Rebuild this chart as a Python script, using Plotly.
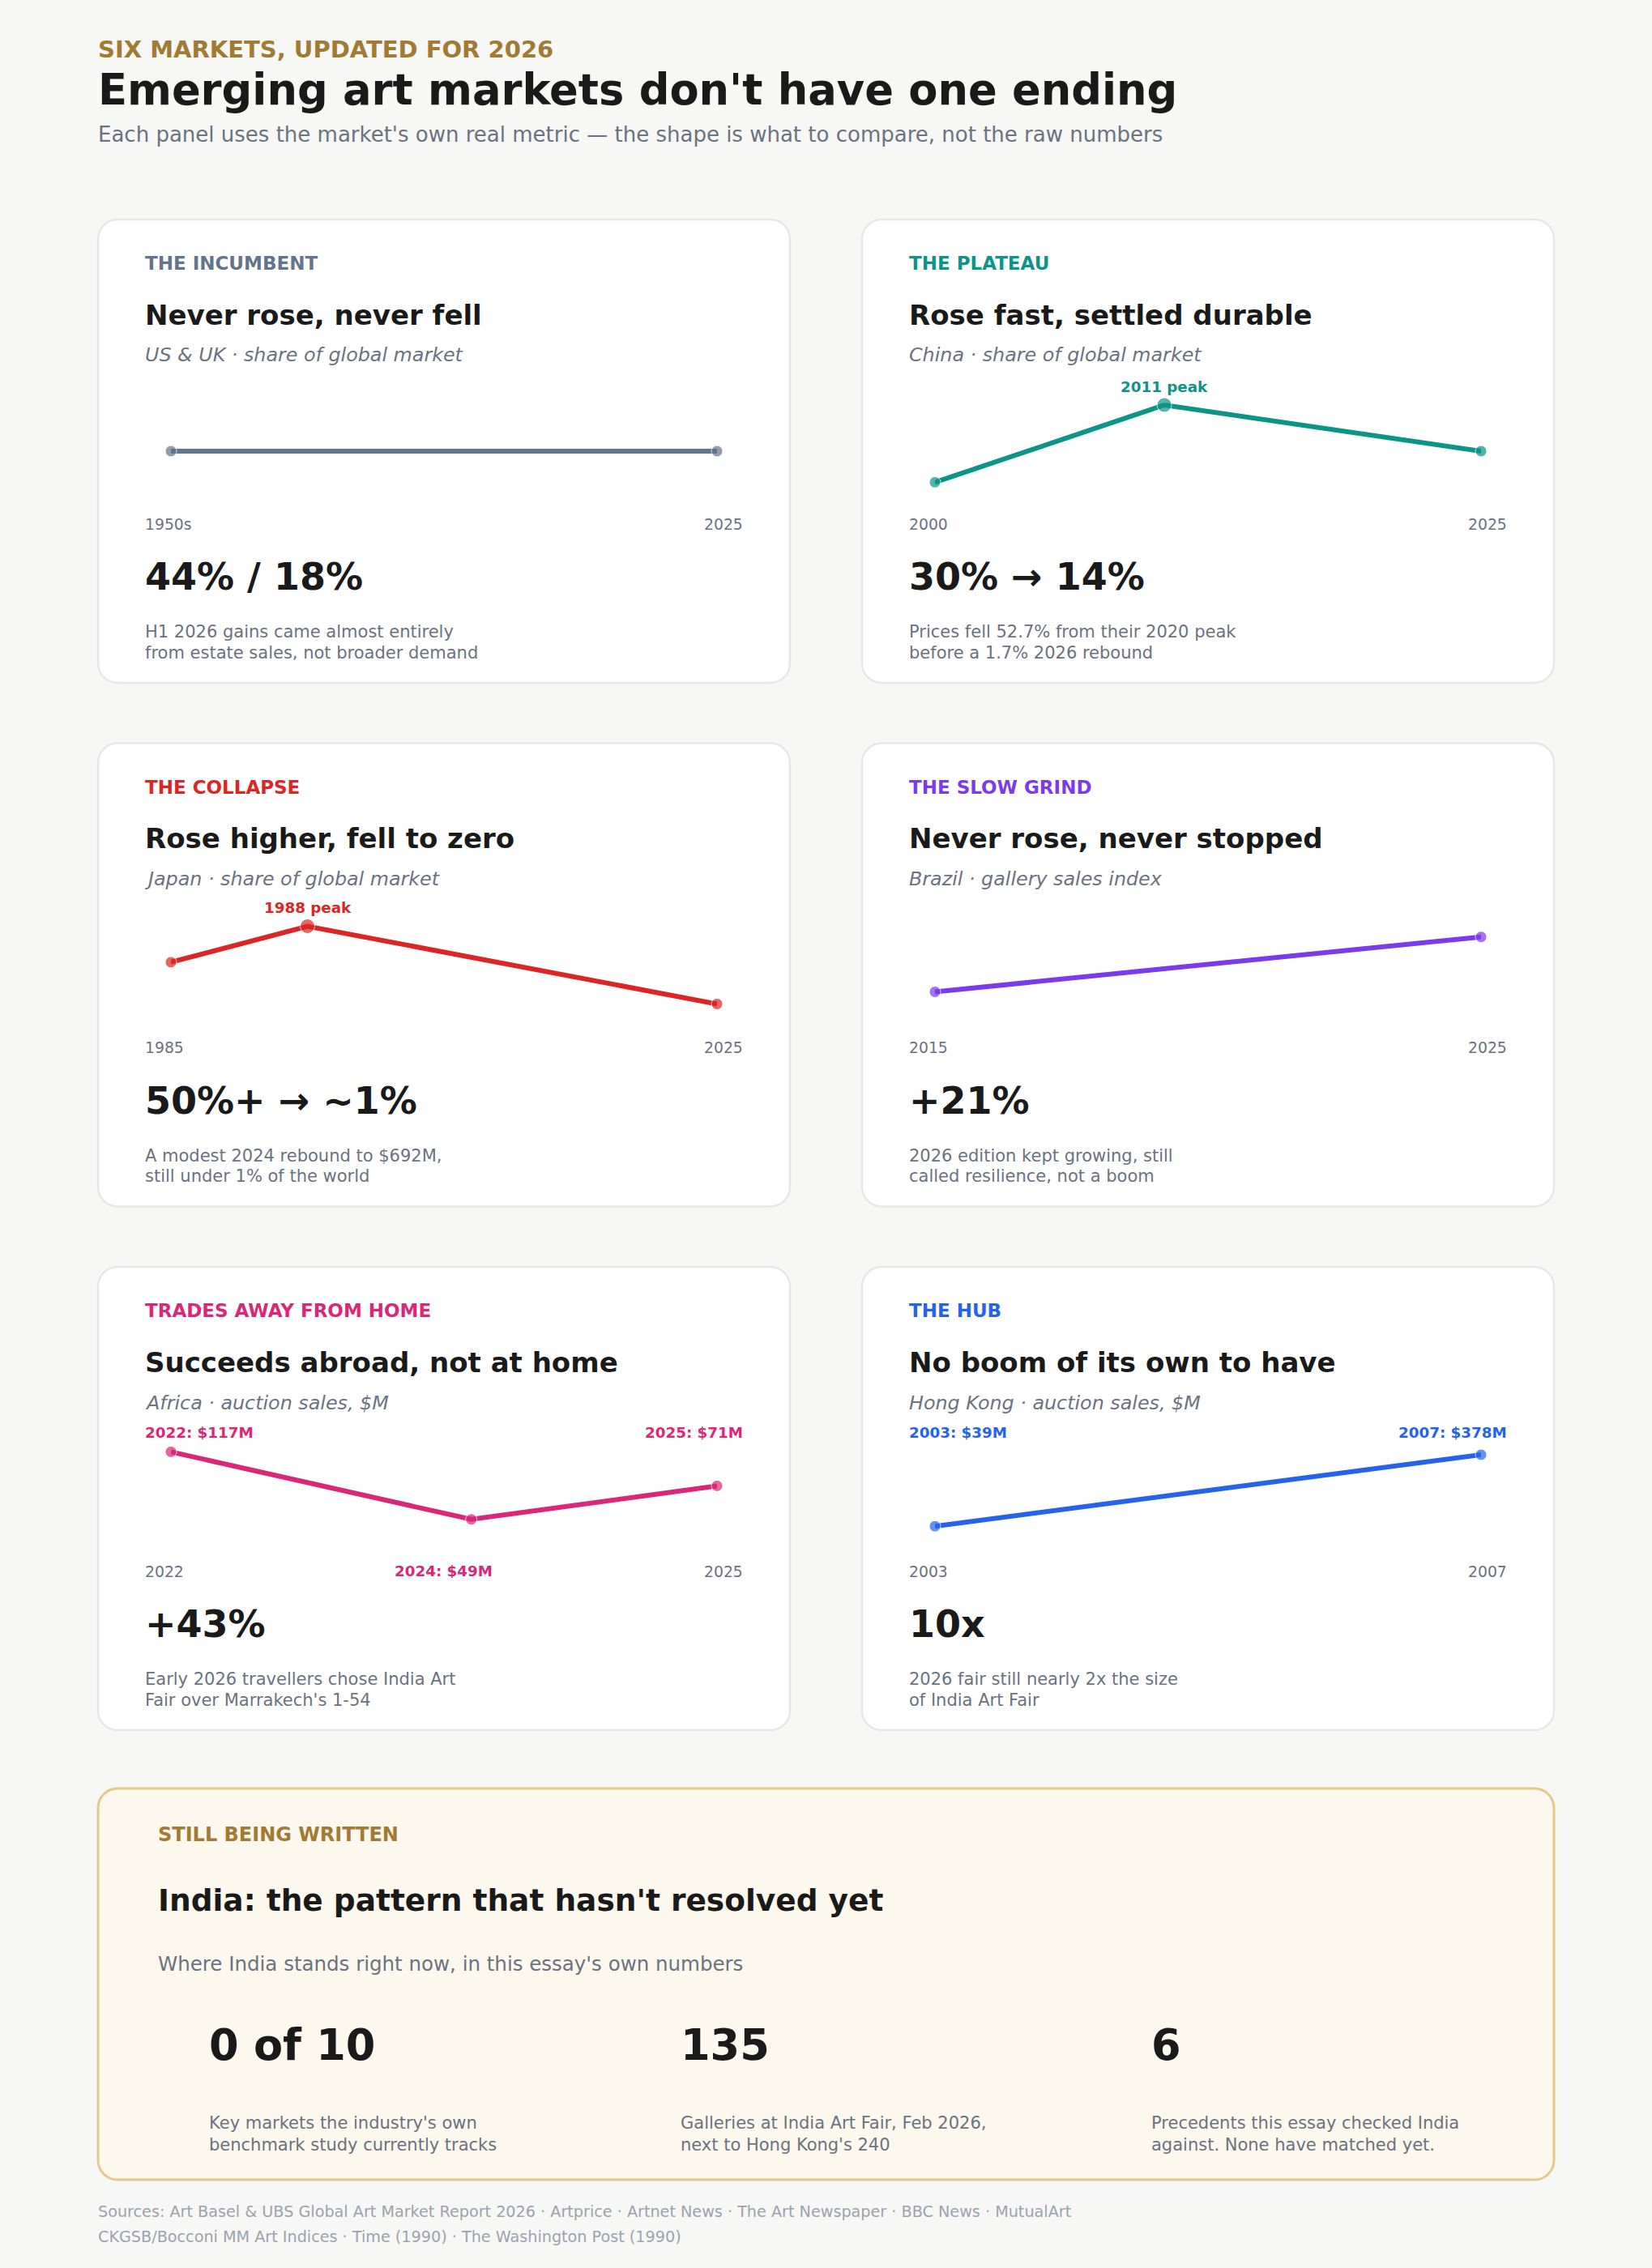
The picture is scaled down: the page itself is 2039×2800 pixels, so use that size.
import plotly.graph_objects as go

# ---------------- data ----------------
kickers = ["THE INCUMBENT", "THE PLATEAU", "THE COLLAPSE",
           "THE SLOW GRIND", "TRADES AWAY FROM HOME", "THE HUB"]
titles = ["Never rose, never fell", "Rose fast, settled durable",
          "Rose higher, fell to zero", "Never rose, never stopped",
          "Succeeds abroad, not at home", "No boom of its own to have"]
metrics = ["US & UK · share of global market", "China · share of global market",
           "Japan · share of global market", "Brazil · gallery sales index",
           "Africa · auction sales, $M", "Hong Kong · auction sales, $M"]
start_labels = ["1950s", "2000", "1985", "2015", "2022", "2003"]
end_labels = ["2025", "2025", "2025", "2025", "2025", "2007"]
headlines = ["44% / 18%", "30% → 14%", "50%+ → ~1%", "+21%", "+43%", "10x"]
notes_line1 = ["H1 2026 gains came almost entirely",
               "Prices fell 52.7% from their 2020 peak",
               "A modest 2024 rebound to $692M,",
               "2026 edition kept growing, still",
               "Early 2026 travellers chose India Art",
               "2026 fair still nearly 2x the size"]
notes_line2 = ["from estate sales, not broader demand",
               "before a 1.7% 2026 rebound",
               "still under 1% of the world",
               "called resilience, not a boom",
               "Fair over Marrakech's 1-54",
               "of India Art Fair"]
colors = ["#64748b", "#0d9488", "#dc2626", "#7c3aed", "#db2777", "#2563eb"]

# shape of each panel's line
# t = relative position along the panel's timeline (0-100), level = relative height (0-100)
us_uk_t = [0, 100]
us_uk_level = [45, 45]
china_t = [0, 42, 100]
china_level = [13, 92.5, 45]
japan_t = [0, 25, 100]
japan_level = [58, 95, 15]
brazil_t = [0, 100]
brazil_level = [27.5, 84]
africa_t = [0, 55, 100]
africa_level = [93, 23.5, 58]
hk_t = [0, 100]
hk_level = [16.5, 90]

series_t = [us_uk_t, china_t, japan_t, brazil_t, africa_t, hk_t]
series_level = [us_uk_level, china_level, japan_level, brazil_level, africa_level, hk_level]
peak_index = [None, 1, 1, None, None, None]
peak_labels = [None, "2011 peak", "1988 peak", None, None, None]

africa_labels = ["2022: $117M", "2024: $49M", "2025: $71M"]
hk_labels = ["2003: $39M", "2007: $378M"]

india_stats = ["0 of 10", "135", "6"]
india_desc1 = ["Key markets the industry's own", "Galleries at India Art Fair, Feb 2026,",
               "Precedents this essay checked India"]
india_desc2 = ["benchmark study currently tracks", "next to Hong Kong's 240",
               "against. None have matched yet."]

sources = ["Sources: Art Basel & UBS Global Art Market Report 2026 · Artprice · Artnet News · The Art Newspaper · BBC News · MutualArt",
           "CKGSB/Bocconi MM Art Indices · Time (1990) · The Washington Post (1990)"]

# ---------------- layout helpers ----------------
W, H = 2039, 2800
FONT = "DejaVu Sans"
DARK = "#1a1a1a"
GRAY = "#6b7280"
GOLD = "#a17a33"
BG = "#f7f7f5"
DY = 2  # small vertical nudge for text


def X(px):
    return px / W


def Y(py):
    return 1 - py / H


def rrect(x0, y0, x1, y1, r):
    k = 0.5523 * r
    p = []
    p.append(f"M {X(x0 + r)},{Y(y0)}")
    p.append(f"L {X(x1 - r)},{Y(y0)}")
    p.append(f"C {X(x1 - r + k)},{Y(y0)} {X(x1)},{Y(y0 + r - k)} {X(x1)},{Y(y0 + r)}")
    p.append(f"L {X(x1)},{Y(y1 - r)}")
    p.append(f"C {X(x1)},{Y(y1 - r + k)} {X(x1 - r + k)},{Y(y1)} {X(x1 - r)},{Y(y1)}")
    p.append(f"L {X(x0 + r)},{Y(y1)}")
    p.append(f"C {X(x0 + r - k)},{Y(y1)} {X(x0)},{Y(y1 - r + k)} {X(x0)},{Y(y1 - r)}")
    p.append(f"L {X(x0)},{Y(y0 + r)}")
    p.append(f"C {X(x0)},{Y(y0 + r - k)} {X(x0 + r - k)},{Y(y0)} {X(x0 + r)},{Y(y0)}")
    p.append("Z")
    return " ".join(p)


annotations = []
shapes = []


def txt(text, px, py, size, color, bold=False, italic=False, anchor="left"):
    annotations.append(dict(
        text=text, x=X(px), y=Y(py + DY + (1.5 if size > 40 else 0)),
        xref="paper", yref="paper",
        xanchor=anchor, yanchor="middle", showarrow=False,
        borderpad=0, borderwidth=0,
        font=dict(family=FONT, size=size, color=color,
                  weight="bold" if bold else "normal",
                  style="italic" if italic else "normal"),
    ))


fig = go.Figure()

# header
txt("SIX MARKETS, UPDATED FOR 2026", 121, 59.5, 29, GOLD, bold=True)
txt("Emerging art markets don't have one ending", 121, 107, 52.7, DARK, bold=True)
txt("Each panel uses the market's own real metric — the shape is what to compare, not the raw numbers",
    121, 164, 26, GRAY)

card_x = [121, 1064]
card_y = [271, 917.5, 1564]
CW, CH = 854, 572

for i in range(6):
    col, row = i % 2, i // 2
    cx, cy = card_x[col], card_y[row]
    shapes.append(dict(type="path", path=rrect(cx, cy, cx + CW, cy + CH, 24),
                       xref="paper", yref="paper", fillcolor="#ffffff",
                       line=dict(color="#e5e7eb", width=2.5), layer="below"))
    tl = cx + 57.5
    tr = cx + CW - 58
    txt(kickers[i], tl, cy + 52, 23, colors[i], bold=True)
    txt(titles[i], tl, cy + 115.5, 34, DARK, bold=True)
    txt(metrics[i], tl, cy + 165.5, 23.8, GRAY, italic=True)
    txt(start_labels[i], tl, cy + 374, 18.8, GRAY)
    txt(end_labels[i], tr, cy + 374, 18.8, GRAY, anchor="right")
    txt(headlines[i], tl, cy + 437.5, 46, DARK, bold=True)
    txt(notes_line1[i], tl, cy + 507, 21, GRAY)
    txt(notes_line2[i], tl, cy + 532.5, 21, GRAY)

    # mini chart axes
    n = i + 1
    xa = "xaxis" if n == 1 else f"xaxis{n}"
    ya = "yaxis" if n == 1 else f"yaxis{n}"
    xr = "x" if n == 1 else f"x{n}"
    yr = "y" if n == 1 else f"y{n}"
    fig.update_layout({
        xa: dict(domain=[X(cx + 90), X(cx + CW - 90)], range=[0, 100], visible=False,
                 fixedrange=True, anchor=yr),
        ya: dict(domain=[Y(cy + 340), Y(cy + 220)], range=[0, 100], visible=False,
                 fixedrange=True, anchor=xr),
    })
    sizes = [18 if j == peak_index[i] else 14 for j in range(len(series_t[i]))]
    fig.add_trace(go.Scatter(
        x=series_t[i], y=series_level[i], xaxis=xr, yaxis=yr,
        mode="lines+markers", cliponaxis=False, hoverinfo="skip",
        line=dict(color=colors[i], width=6),
        marker=dict(color=colors[i], size=sizes),
        showlegend=False,
    ))
    if peak_index[i] is not None:
        j = peak_index[i]
        annotations.append(dict(
            text=peak_labels[i], x=series_t[i][j], y=series_level[i][j], xref=xr, yref=yr,
            xanchor="center", yanchor="middle", yshift=23, showarrow=False,
            font=dict(family=FONT, size=18.3, color=colors[i], weight="bold")))
    if i == 4:
        txt(africa_labels[0], tl, cy + 202.7, 18.3, colors[i], bold=True)
        txt(africa_labels[2], tr, cy + 202.7, 18.3, colors[i], bold=True, anchor="right")
        txt(africa_labels[1], cx + 426.7, cy + 373, 18.3, colors[i], bold=True, anchor="center")
    if i == 5:
        txt(hk_labels[0], tl, cy + 202.7, 18.3, colors[i], bold=True)
        txt(hk_labels[1], tr, cy + 202.7, 18.3, colors[i], bold=True, anchor="right")

# India card
shapes.append(dict(type="path", path=rrect(121, 2208, 1918, 2691, 24),
                   xref="paper", yref="paper", fillcolor="#fdf8ed",
                   line=dict(color="#e6c98a", width=3), layer="below"))
txt("STILL BEING WRITTEN", 195, 2262.6, 24, GOLD, bold=True)
txt("India: the pattern that hasn't resolved yet", 195, 2343.5, 37.5, DARK, bold=True)
txt("Where India stands right now, in this essay's own numbers", 195, 2422.5, 24.5, GRAY)
stat_x = [258, 840, 1421]
for k in range(3):
    txt(india_stats[k], stat_x[k], 2521, 52.6, DARK, bold=True)
    txt(india_desc1[k], stat_x[k], 2619, 21, GRAY)
    txt(india_desc2[k], stat_x[k], 2646, 21, GRAY)

txt(sources[0], 121, 2728.7, 19.2, "#9ca3af")
txt(sources[1], 121, 2759, 19.2, "#9ca3af")

fig.update_layout(
    width=W, height=H,
    margin=dict(l=0, r=0, t=0, b=0),
    paper_bgcolor=BG, plot_bgcolor="rgba(0,0,0,0)",
    shapes=shapes, annotations=annotations,
    showlegend=False, hovermode=False,
    font=dict(family=FONT),
)

fig.write_html(
    "out.html",
    config={"displayModeBar": False, "staticPlot": True},
    post_script="document.body.style.margin='0';document.body.style.padding='0';"
                "document.body.style.background='" + BG + "';"
                "document.documentElement.style.background='" + BG + "';",
)
